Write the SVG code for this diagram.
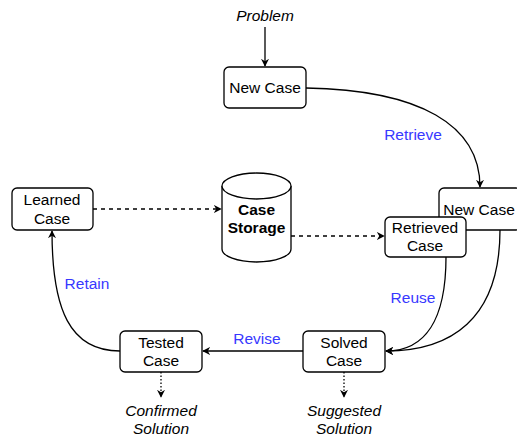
<svg xmlns="http://www.w3.org/2000/svg" width="517" height="439" viewBox="0 0 517 439">
<style>
.box{fill:#fff;stroke:#000;stroke-width:1.3}
.t{font-family:"Liberation Sans",Arial,sans-serif;font-size:15.5px;text-anchor:middle;fill:#000}
.i{font-style:italic}
.b{font-weight:bold}
.lbl{font-family:"Liberation Sans",Arial,sans-serif;font-size:15.5px;text-anchor:middle;fill:#3838ff}
.ln{fill:none;stroke:#000;stroke-width:1.3}
.dash{stroke-dasharray:4,4}
.dot{stroke-dasharray:1.5,2}
</style>
<defs>
<marker id="ar" viewBox="0 0 10 10" refX="9" refY="5" markerWidth="8" markerHeight="8" markerUnits="userSpaceOnUse" orient="auto">
<path d="M0,0 L10,5 L0,10 L3,5 Z" fill="#000"/>
</marker>
</defs>
<rect width="517" height="439" fill="#fff"/>
<g id="connectors">
<path class="ln" d="M265,27 L265,66" marker-end="url(#ar)"/>
<path class="ln" d="M306,88 C420,90 480,125 480,187" marker-end="url(#ar)"/>
<path class="ln dash" d="M93,209 L221,209" marker-end="url(#ar)"/>
<path class="ln dash" d="M291,236 L384,236" marker-end="url(#ar)"/>
<path class="ln" d="M446,257 C446,320 425,351 386,351" marker-end="url(#ar)"/>
<path class="ln" d="M500,230 C500,320 450,351 386,351" marker-end="url(#ar)"/>
<path class="ln" d="M303,351 L203,351" marker-end="url(#ar)"/>
<path class="ln" d="M120,351 C70,351 52,310 52,231" marker-end="url(#ar)"/>
<path class="ln dot" d="M161,372 L161,397" marker-end="url(#ar)"/>
<path class="ln dot" d="M344,372 L344,397" marker-end="url(#ar)"/>
</g>
<g id="problem"><text class="t i" x="265" y="21">Problem</text></g>
<g id="newcase-top"><rect class="box" x="224" y="67" width="82" height="41" rx="5"/><text class="t" x="265" y="93">New Case</text></g>
<g id="label-retrieve"><text class="lbl" x="413" y="140">Retrieve</text></g>
<g id="newcase-right"><rect class="box" x="439" y="188" width="82" height="42" rx="5"/><text class="t" x="479" y="215">New Case</text></g>
<g id="retrieved"><rect class="box" x="385" y="217" width="81" height="40" rx="5"/><text class="t" x="425" y="233">Retrieved</text><text class="t" x="425" y="251">Case</text></g>
<g id="storage">
<path class="box" d="M222,186 L222,249 A34.5,13 0 0 0 291,249 L291,186"/>
<ellipse class="box" cx="256.5" cy="186" rx="34.5" ry="13"/>
<text class="t b" x="256.5" y="215">Case</text><text class="t b" x="256.5" y="233">Storage</text>
</g>
<g id="learned"><rect class="box" x="12" y="188" width="81" height="42" rx="5"/><text class="t" x="52" y="205">Learned</text><text class="t" x="52" y="224">Case</text></g>
<g id="label-retain"><text class="lbl" x="87" y="289">Retain</text></g>
<g id="label-reuse"><text class="lbl" x="413" y="303">Reuse</text></g>
<g id="label-revise"><text class="lbl" x="257" y="344">Revise</text></g>
<g id="tested"><rect class="box" x="120" y="331" width="82" height="41" rx="5"/><text class="t" x="161" y="348">Tested</text><text class="t" x="161" y="366">Case</text></g>
<g id="solved"><rect class="box" x="303" y="331" width="82" height="41" rx="5"/><text class="t" x="344" y="348">Solved</text><text class="t" x="344" y="366">Case</text></g>
<g id="confirmed"><text class="t i" x="161" y="416">Confirmed</text><text class="t i" x="161" y="434">Solution</text></g>
<g id="suggested"><text class="t i" x="344" y="416">Suggested</text><text class="t i" x="344" y="434">Solution</text></g>
</svg>
